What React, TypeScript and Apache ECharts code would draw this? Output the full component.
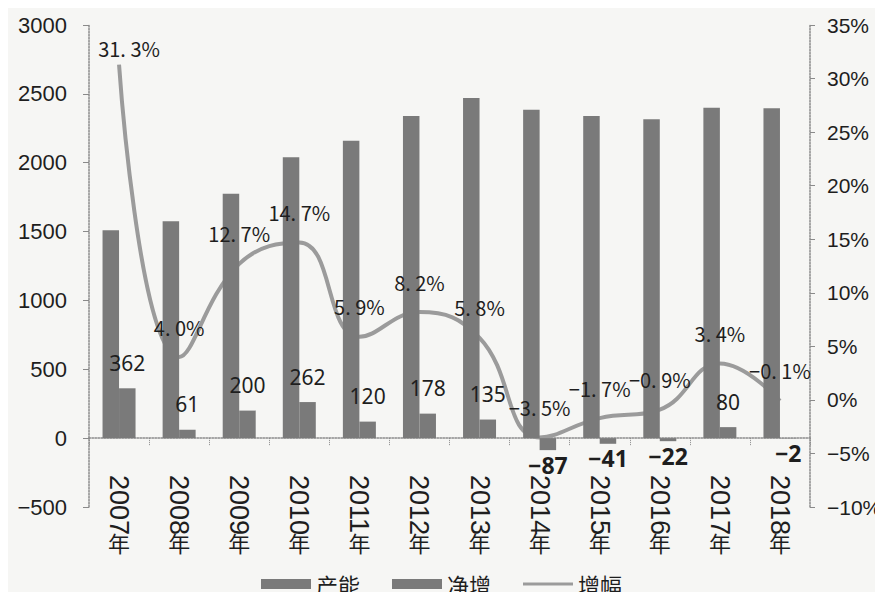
import React, { useEffect, useRef } from "react";
import * as echarts from "echarts";

const years = ["2007年", "2008年", "2009年", "2010年", "2011年", "2012年", "2013年", "2014年", "2015年", "2016年", "2017年", "2018年"];
const capacity = [1510, 1575, 1775, 2040, 2160, 2340, 2470, 2385, 2340, 2315, 2400, 2395];
const netIncrease = [362, 61, 200, 262, 120, 178, 135, -87, -41, -22, 80, -2];
const growthPct = [31.3, 4.0, 12.7, 14.7, 5.9, 8.2, 5.8, -3.5, -1.7, -0.9, 3.4, -0.1];

const leftTicks = { min: -500, max: 3000, interval: 500 };
const rightTicks = { min: -10, max: 35, interval: 5 };

const BAR_COLOR = "#7a7a7a";
const LINE_COLOR = "#9b9b9b";
const AXIS_COLOR = "#8a8a8a";
const TEXT_COLOR = "#1e1e1e";
const LATIN = "'Liberation Sans', Arial, sans-serif";
const NARROW = "'Liberation Sans Narrow', 'Liberation Sans', sans-serif";
const CJK = "'Noto Sans CJK SC', 'Liberation Sans', sans-serif";

const minus = (v: number) => (v < 0 ? "−" + Math.abs(v) : String(v));
const fmtPct = (v: number) => {
  const s = Math.abs(v).toFixed(1).replace(".", ". ");
  return (v < 0 ? "−" : "") + s + "%";
};
// vertical year label: digits turned sideways, the 年 character kept upright
const yearDigits = (v: string) => v.replace("年", "");
const yearSuffix = (v: string) => v.replace(/[0-9]/g, "");

export default function App() {
  const ref = useRef<HTMLDivElement>(null);

  useEffect(() => {
    if (!ref.current) return;
    const chart = echarts.init(ref.current, undefined, { renderer: "svg" });

    const netData = netIncrease.map((v) => ({
      value: v,
      label:
        v < 0
          ? { position: "bottom", distance: 3, fontWeight: "bold", fontSize: 23 }
          : { position: "top", distance: 15 },
    }));

    const growthData = growthPct.map((v, i) => ({
      value: v,
      label: i === 0 ? { distance: 6, offset: [10, 0] } : {},
    }));

    chart.setOption({
      animation: false,
      backgroundColor: "transparent",
      grid: { left: 89, right: 73, top: 25, bottom: 93, containLabel: false, outerBoundsMode: "none" },
      legend: {
        top: 568,
        left: "center",
        itemWidth: 50,
        itemHeight: 10,
        itemGap: 32,
        textStyle: { fontSize: 22, color: TEXT_COLOR, fontFamily: CJK },
        data: [
          { name: "产能", icon: "rect" },
          { name: "净增", icon: "rect" },
          { name: "增幅", icon: "path://M0 0H50V3H0Z", itemStyle: { color: LINE_COLOR } },
        ],
      },
      xAxis: [
        {
          type: "category",
          data: years,
          axisLine: { onZero: true, lineStyle: { color: AXIS_COLOR, type: "dotted", width: 1.5 } },
          axisTick: { show: true, length: 7, lineStyle: { color: AXIS_COLOR, type: "dotted" } },
          axisLabel: {
            rotate: -90,
            margin: -32,
            fontSize: 27,
            color: TEXT_COLOR,
            fontFamily: NARROW,
            interval: 0,
            formatter: yearDigits,
          },
          splitLine: { show: false },
        },
        {
          type: "category",
          data: years,
          position: "bottom",
          axisLine: { show: false, onZero: false },
          axisTick: { show: false },
          axisLabel: {
            margin: 24,
            fontSize: 22,
            color: TEXT_COLOR,
            fontFamily: CJK,
            interval: 0,
            verticalAlign: "top",
            formatter: yearSuffix,
          },
          splitLine: { show: false },
        },
      ],
      yAxis: [
        {
          type: "value",
          ...leftTicks,
          position: "left",
          axisLine: { show: true, onZero: false, lineStyle: { color: AXIS_COLOR, type: "dotted", width: 1.5 } },
          axisTick: { show: true, length: 6, lineStyle: { color: AXIS_COLOR } },
          axisLabel: { fontSize: 22, color: TEXT_COLOR, fontFamily: LATIN, margin: 22, formatter: (v: number) => minus(v) },
          splitLine: { show: false },
        },
        {
          type: "value",
          ...rightTicks,
          position: "right",
          axisLine: { show: true, onZero: false, lineStyle: { color: AXIS_COLOR, type: "dotted", width: 1.5 } },
          axisTick: { show: true, length: 5, lineStyle: { color: AXIS_COLOR } },
          axisLabel: {
            fontSize: 21,
            color: TEXT_COLOR,
            fontFamily: LATIN,
            margin: 17,
            formatter: (v: number) => minus(v) + "%",
          },
          splitLine: { show: false },
        },
      ],
      series: [
        {
          // growth curve, drawn behind the bars
          name: "增幅",
          type: "line",
          yAxisIndex: 1,
          z: 1,
          smooth: 0.45,
          symbol: "none",
          data: growthPct,
          itemStyle: { color: LINE_COLOR },
          lineStyle: { color: LINE_COLOR, width: 4 },
        },
        {
          name: "产能",
          type: "bar",
          z: 2,
          barWidth: 16.5,
          barGap: "0%",
          data: capacity,
          itemStyle: { color: BAR_COLOR },
        },
        {
          name: "净增",
          type: "bar",
          z: 2,
          barWidth: 16.5,
          barGap: "0%",
          data: netData,
          itemStyle: { color: BAR_COLOR },
          label: {
            show: true,
            fontSize: 21,
            color: TEXT_COLOR,
            fontFamily: "'Noto Sans', 'Open Sans', sans-serif",
            formatter: (p: any) => minus(p.value),
          },
        },
        {
          // growth value labels, kept above the bars
          name: "增幅",
          type: "line",
          yAxisIndex: 1,
          z: 4,
          silent: true,
          symbol: "circle",
          symbolSize: 0,
          showSymbol: true,
          data: growthData,
          itemStyle: { color: LINE_COLOR },
          lineStyle: { width: 0, opacity: 0 },
          label: {
            show: true,
            position: "top",
            distance: 20,
            fontSize: 20,
            color: TEXT_COLOR,
            fontFamily: CJK,
            formatter: (p: any) => fmtPct(p.value),
          },
        },
      ],
    });

    return () => chart.dispose();
  }, []);

  return (
    <div style={{ background: "#f6f6f4", margin: -8, width: 883, height: 600 }}>
      <div ref={ref} style={{ width: 883, height: 600 }} />
    </div>
  );
}
